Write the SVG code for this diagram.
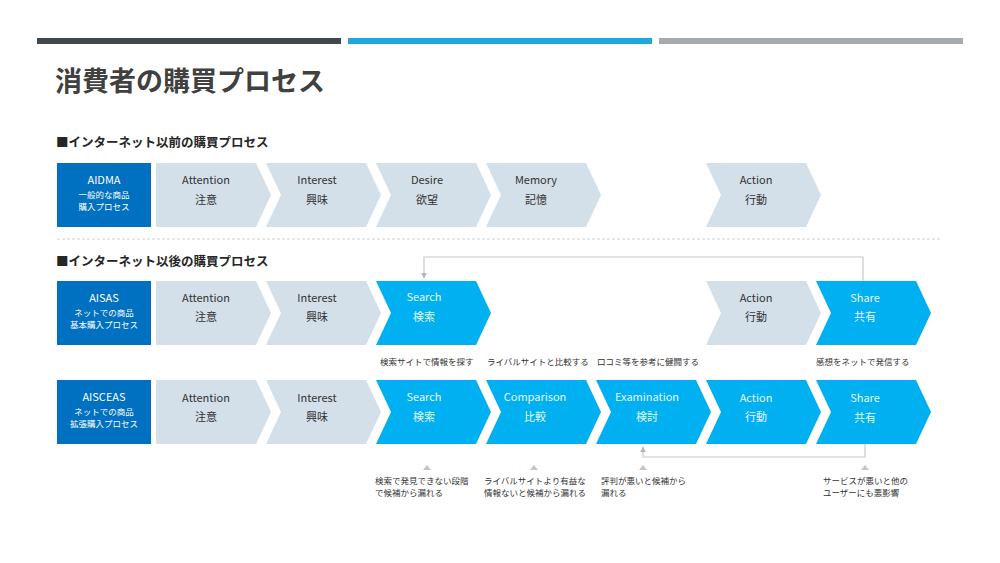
<svg xmlns="http://www.w3.org/2000/svg" width="1000" height="563" viewBox="0 0 1000 563">
<style>
text{font-family:"Noto Sans CJK JP","Noto Sans",sans-serif;}
.title{font-size:27px;font-weight:bold;fill:#404040;}
.sec{font-size:12.5px;font-weight:bold;fill:#262626;}
.lbl{fill:#0070c0;}
.lt{fill:#d3dfe9;}
.bl{fill:#00b0f0;}
.lbt{font-size:11px;fill:#ffffff;text-anchor:middle;}
.lbs{font-size:8.5px;fill:#ffffff;text-anchor:middle;}
.dk{font-size:11px;fill:#333333;text-anchor:middle;}
.wt{font-size:11px;fill:#e6f6fd;text-anchor:middle;}
.note{font-size:8.5px;fill:#333333;}
.conn{fill:none;stroke:#c8c8c8;stroke-width:1.2;}
.tri{fill:#c4c4c4;}
</style>
<defs>
<marker id="ah" viewBox="0 0 10 10" refX="9" refY="5" markerWidth="5" markerHeight="5" orient="auto-start-reverse">
<path d="M0,0 L10,5 L0,10 Z" fill="#b4b4b4"/>
</marker>
<path id="chevF" d="M0,0 H100 L115,32 L100,64 H0 Z"/>
<path id="chev" d="M0,0 H100 L115,32 L100,64 H0 L15,32 Z"/>
</defs>
<rect width="1000" height="563" fill="#ffffff"/>
<g id="topbars">
<rect x="37" y="38" width="304" height="6" fill="#41494f"/>
<rect x="348" y="38" width="304" height="6" fill="#1ea6e0"/>
<rect x="659" y="38" width="304" height="6" fill="#a7aaad"/>
</g>
<text class="title" x="55" y="91">消費者の購買プロセス</text>
<text class="sec" x="56" y="147">■インターネット以前の購買プロセス</text>
<line x1="57" y1="239" x2="942" y2="239" stroke="#d0d0d0" stroke-width="1" stroke-dasharray="3,2"/>
<text class="sec" x="56" y="266">■インターネット以後の購買プロセス</text>

<g id="row1">
<g id="aidma"><rect class="lbl" x="57" y="163" width="94" height="64"/><text class="lbt" x="104" y="184">AIDMA</text><text class="lbs" x="104" y="198">一般的な商品</text><text class="lbs" x="104" y="210">購入プロセス</text></g>
<g id="r1-attention"><use href="#chevF" class="lt" x="156" y="163"/><text class="dk" x="206" y="184">Attention</text><text class="dk" x="206" y="204">注意</text></g>
<g id="r1-interest"><use href="#chev" class="lt" x="266" y="163"/><text class="dk" x="317" y="184">Interest</text><text class="dk" x="317" y="204">興味</text></g>
<g id="r1-desire"><use href="#chev" class="lt" x="376" y="163"/><text class="dk" x="427" y="184">Desire</text><text class="dk" x="427" y="204">欲望</text></g>
<g id="r1-memory"><use href="#chev" class="lt" x="486" y="163"/><text class="dk" x="536" y="184">Memory</text><text class="dk" x="536" y="204">記憶</text></g>
<g id="r1-action"><use href="#chev" class="lt" x="706" y="163"/><text class="dk" x="756" y="184">Action</text><text class="dk" x="756" y="204">行動</text></g>
</g>

<g id="row2">
<g id="aisas"><rect class="lbl" x="57" y="281" width="94" height="64"/><text class="lbt" x="104" y="302">AISAS</text><text class="lbs" x="104" y="316">ネットでの商品</text><text class="lbs" x="104" y="328">基本購入プロセス</text></g>
<g id="r2-attention"><use href="#chevF" class="lt" x="156" y="281"/><text class="dk" x="206" y="302">Attention</text><text class="dk" x="206" y="321">注意</text></g>
<g id="r2-interest"><use href="#chev" class="lt" x="266" y="281"/><text class="dk" x="317" y="302">Interest</text><text class="dk" x="317" y="321">興味</text></g>
<g id="r2-search"><use href="#chev" class="bl" x="376" y="281"/><text class="wt" x="424" y="301">Search</text><text class="wt" x="424" y="321">検索</text></g>
<g id="r2-action"><use href="#chev" class="lt" x="706" y="281"/><text class="dk" x="756" y="302">Action</text><text class="dk" x="756" y="321">行動</text></g>
<g id="r2-share"><use href="#chev" class="bl" x="816" y="281"/><text class="wt" x="865" y="302">Share</text><text class="wt" x="865" y="321">共有</text></g>
</g>

<g id="notes2">
<text class="note" x="380" y="365">検索サイトで情報を探す</text>
<text class="note" x="487" y="365">ライバルサイトと比較する</text>
<text class="note" x="597" y="365">口コミ等を参考に健闘する</text>
<text class="note" x="816" y="365">感想をネットで発信する</text>
</g>

<g id="row3">
<g id="aisceas"><rect class="lbl" x="57" y="380" width="94" height="64"/><text class="lbt" x="104" y="401">AISCEAS</text><text class="lbs" x="104" y="415">ネットでの商品</text><text class="lbs" x="104" y="427">拡張購入プロセス</text></g>
<g id="r3-attention"><use href="#chevF" class="lt" x="156" y="380"/><text class="dk" x="206" y="402">Attention</text><text class="dk" x="206" y="421">注意</text></g>
<g id="r3-interest"><use href="#chev" class="lt" x="266" y="380"/><text class="dk" x="317" y="402">Interest</text><text class="dk" x="317" y="421">興味</text></g>
<g id="r3-search"><use href="#chev" class="bl" x="376" y="380"/><text class="wt" x="424" y="401">Search</text><text class="wt" x="424" y="421">検索</text></g>
<g id="r3-comparison"><use href="#chev" class="bl" x="486" y="380"/><text class="wt" x="535" y="401">Comparison</text><text class="wt" x="535" y="421">比較</text></g>
<g id="r3-examination"><use href="#chev" class="bl" x="596" y="380"/><text class="wt" x="647" y="401">Examination</text><text class="wt" x="647" y="421">検討</text></g>
<g id="r3-action"><use href="#chev" class="bl" x="706" y="380"/><text class="wt" x="756" y="402">Action</text><text class="wt" x="756" y="421">行動</text></g>
<g id="r3-share"><use href="#chev" class="bl" x="816" y="380"/><text class="wt" x="865" y="402">Share</text><text class="wt" x="865" y="422">共有</text></g>
</g>

<g id="connectors">
<polyline class="conn" points="863,281 863,257 424,257 424,278" marker-end="url(#ah)"/>
<polyline class="conn" points="865,444 865,457 643,457 643,447" marker-end="url(#ah)"/>
<polygon class="tri" points="423,470 431,470 427,465"/>
<polygon class="tri" points="530,470 538,470 534,465"/>
<polygon class="tri" points="639,470 647,470 643,465"/>
<polygon class="tri" points="861,470 869,470 865,465"/>
</g>

<g id="notes3">
<text class="note" x="375" y="484">検索で発見できない段階</text>
<text class="note" x="375" y="496">で候補から漏れる</text>
<text class="note" x="484" y="484">ライバルサイトより有益な</text>
<text class="note" x="484" y="496">情報ないと候補から漏れる</text>
<text class="note" x="601" y="484">評判が悪いと候補から</text>
<text class="note" x="601" y="496">漏れる</text>
<text class="note" x="823" y="484">サービスが悪いと他の</text>
<text class="note" x="823" y="496">ユーザーにも悪影響</text>
</g>
</svg>
